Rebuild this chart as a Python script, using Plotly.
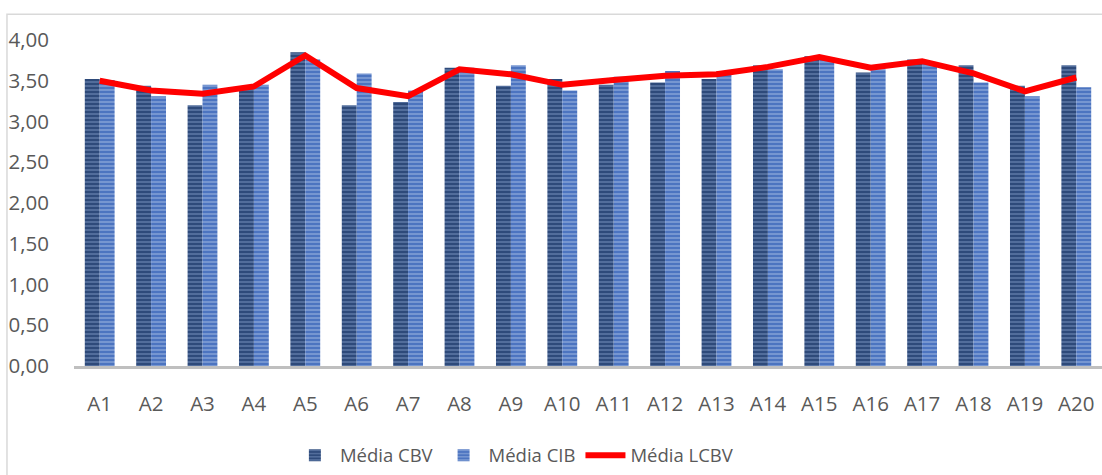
import plotly.graph_objects as go

categories = [f"A{i}" for i in range(1, 21)]
media_cbv = [3.52, 3.44, 3.20, 3.43, 3.85, 3.20, 3.24, 3.66, 3.44, 3.52,
             3.45, 3.48, 3.52, 3.69, 3.80, 3.60, 3.76, 3.69, 3.44, 3.69]
media_cib = [3.51, 3.31, 3.45, 3.45, 3.76, 3.59, 3.38, 3.66, 3.69, 3.38,
             3.55, 3.62, 3.62, 3.64, 3.79, 3.64, 3.72, 3.48, 3.31, 3.42]
media_lcbv = [3.50, 3.38, 3.34, 3.43, 3.81, 3.41, 3.31, 3.64, 3.58, 3.45,
              3.51, 3.56, 3.58, 3.67, 3.79, 3.66, 3.74, 3.59, 3.37, 3.54]
y_ticks = [0, 0.5, 1, 1.5, 2, 2.5, 3, 3.5, 4]
y_tick_labels = ["0,00", "0,50", "1,00", "1,50", "2,00", "2,50", "3,00", "3,50", "4,00"]

FONT = "Open Sans"
GRAY = "#595959"
FS = 20.5

fig = go.Figure()
fig.add_trace(go.Bar(
    x=categories, y=media_cbv, name="Média CBV",
    marker=dict(color="#2E4A7A", line=dict(width=0),
                pattern=dict(shape="-", bgcolor="#2E4A7A", fgcolor="#7F97C4",
                             size=4, solidity=0.45, fillmode="overlay")),
))
fig.add_trace(go.Bar(
    x=categories, y=media_cib, name="Média CIB",
    marker=dict(color="#4C74C0", line=dict(width=0),
                pattern=dict(shape="-", bgcolor="#4C74C0", fgcolor="#A9BFE8",
                             size=4, solidity=0.45, fillmode="overlay")),
))
fig.add_trace(go.Scatter(
    x=categories, y=media_lcbv, name="Média LCBV", mode="lines",
    line=dict(color="#FF0000", width=6),
))

fig.update_layout(
    width=1102, height=475,
    margin=dict(l=74, r=0, t=40, b=107),
    paper_bgcolor="white", plot_bgcolor="white",
    barmode="group", bargap=0.42, bargroupgap=0,
    font=dict(family=FONT, size=FS, color=GRAY),
    showlegend=True,
    legend=dict(orientation="h", x=0.21, xanchor="left", y=-0.275, yanchor="middle",
                font=dict(family=FONT, size=18.5, color=GRAY),
                itemwidth=40, tracegroupgap=0,
                bgcolor="rgba(0,0,0,0)"),
    shapes=[dict(type="rect", xref="paper", yref="paper",
                 x0=-0.0652, x1=1.02, y0=-0.45, y1=1.0793,
                 line=dict(color="#D9D9D9", width=1.5), fillcolor="rgba(0,0,0,0)",
                 layer="below")],
)
fig.update_xaxes(
    showline=True, linecolor="#BFBFBF", linewidth=3,
    showgrid=False, zeroline=False,
    ticks="outside", ticklen=17, tickcolor="rgba(0,0,0,0)",
    tickfont=dict(family=FONT, size=FS, color=GRAY),
)
fig.update_yaxes(
    range=[0, 4], tickvals=y_ticks, ticktext=y_tick_labels,
    showline=False, showgrid=False, zeroline=False,
    ticks="outside", ticklen=20, tickcolor="rgba(0,0,0,0)",
    tickfont=dict(family=FONT, size=FS, color=GRAY),
)

fig.write_html(
    "out.html",
    config={"displayModeBar": False},
    post_script="document.body.style.margin='0';document.body.style.overflow='hidden';",
)
